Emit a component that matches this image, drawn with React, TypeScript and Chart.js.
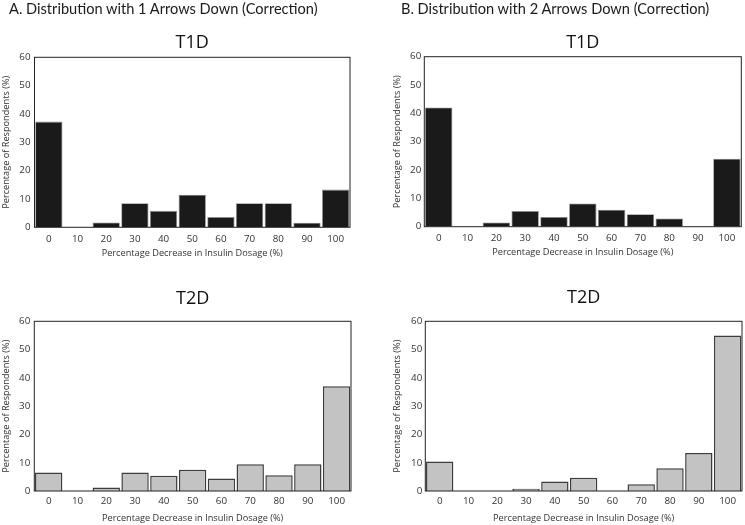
import React, { useEffect, useRef } from 'react';
import { Chart, registerables } from 'chart.js';

Chart.register(...registerables);

// ---- data ----
const categories = ['0', '10', '20', '30', '40', '50', '60', '70', '80', '90', '100'];
const t1dOneArrow = [37.3, 0, 1.7, 8.5, 5.8, 11.5, 3.6, 8.5, 8.5, 1.6, 13.3];
const t2dOneArrow = [6.5, 0, 1.2, 6.5, 5.4, 7.5, 4.4, 9.5, 5.6, 9.5, 37.0];
const t1dTwoArrows = [42.1, 0, 1.5, 5.5, 3.4, 8.2, 6.0, 4.4, 2.9, 0, 24.0];
const t2dTwoArrows = [10.4, 0, 0, 0.8, 3.4, 4.7, 0, 2.4, 8.0, 13.4, 55.0];
const yMin = 0;
const yMax = 60;
const yStep = 10;

const headerA = 'A. Distribution with 1 Arrows Down (Correction)';
const headerB = 'B. Distribution with 2 Arrows Down (Correction)';
const xTitle = 'Percentage Decrease in Insulin Dosage (%)';
const yTitle = 'Percentage of Respondents (%)';

const FONT = "'Open Sans', 'DejaVu Sans', sans-serif";

type PanelProps = {
  left: number;
  top: number;
  width: number;
  height: number;
  title: string;
  values: number[];
  fill: string;
  stroke: string;
  strokeWidth: number;
  area: { l: number; r: number; t: number; b: number };
  titleCenter: number;
  yTitleCenter: number;
  yTickPad: number;
  xTickGap: number;
  xTitleGap: number;
};

const framePlugin = {
  id: 'frame',
  afterDatasetsDraw(chart: any) {
    const { ctx, chartArea } = chart;
    ctx.save();
    ctx.strokeStyle = '#222';
    ctx.lineWidth = 1;
    ctx.strokeRect(chartArea.left, chartArea.top, chartArea.right - chartArea.left, chartArea.bottom - chartArea.top);
    ctx.restore();
  },
};

function Panel(p: PanelProps) {
  const ref = useRef<HTMLCanvasElement | null>(null);
  useEffect(() => {
    if (!ref.current) return;
    const tickSize = 9.8;
    const tickLH = tickSize * 1.2;
    const titleSize = 18;
    const titleLH = titleSize * 1.2;
    const axisTitleSize = 9.2;
    const axisTitleLH = axisTitleSize * 1.2;
    const xAxisH = p.height - p.area.b;
    const titlePadTop = p.titleCenter - titleLH / 2;
    const titlePadBottom = p.area.t - titlePadTop - titleLH;
    const chart = new Chart(ref.current, {
      type: 'bar',
      data: {
        labels: categories,
        datasets: [
          {
            data: p.values,
            backgroundColor: p.fill,
            borderColor: p.stroke,
            borderWidth: p.strokeWidth,
            barPercentage: 0.95,
            categoryPercentage: 1,
          },
        ],
      },
      options: {
        animation: false,
        responsive: false,
        maintainAspectRatio: false,
        layout: { padding: { left: 0, right: p.width - p.area.r, top: 0, bottom: 0 } },
        plugins: {
          legend: { display: false },
          tooltip: { enabled: false },
          title: {
            display: true,
            text: p.title,
            fullSize: false,
            color: '#111',
            font: { family: FONT, size: titleSize, weight: 'normal' },
            padding: { top: titlePadTop, bottom: titlePadBottom },
          },
        },
        scales: {
          x: {
            grid: { display: false, drawTicks: false },
            border: { display: false },
            ticks: {
              color: '#333',
              padding: p.xTickGap - tickLH / 2,
              font: { family: FONT, size: tickSize },
              maxRotation: 0,
              autoSkip: false,
            },
            title: {
              display: true,
              text: xTitle,
              color: '#333',
              font: { family: FONT, size: axisTitleSize },
              padding: { top: 0, bottom: xAxisH - p.xTitleGap - axisTitleLH / 2 },
            },
            afterFit(scale: any) {
              scale.height = xAxisH;
            },
          },
          y: {
            min: yMin,
            max: yMax,
            grid: { display: false, drawTicks: false },
            border: { display: false },
            ticks: {
              stepSize: yStep,
              color: '#333',
              padding: p.yTickPad,
              font: { family: FONT, size: tickSize },
            },
            title: {
              display: true,
              text: yTitle,
              color: '#333',
              font: { family: FONT, size: axisTitleSize },
              padding: { top: p.yTitleCenter - axisTitleLH / 2, bottom: 0 },
            },
            afterFit(scale: any) {
              scale.width = p.area.l;
            },
          },
        },
      },
      plugins: [framePlugin],
    } as any);
    return () => chart.destroy();
  }, []);
  return (
    <canvas
      ref={ref}
      width={p.width}
      height={p.height}
      style={{ position: 'absolute', left: p.left, top: p.top, width: p.width, height: p.height }}
    />
  );
}

const headerStyle: React.CSSProperties = {
  position: 'absolute',
  top: 0,
  fontFamily: "Lato, 'Open Sans', sans-serif",
  fontSize: 14.6,
  lineHeight: '18px',
  color: '#1a1a1a',
  whiteSpace: 'nowrap',
};

export default function App() {
  return (
    <div style={{ position: 'absolute', left: 0, top: 0, width: 745, height: 525, background: '#fff', overflow: 'hidden' }}>
      <Panel
        left={0}
        top={0}
        width={372}
        height={262}
        title="T1D"
        values={t1dOneArrow}
        fill="#1a1a1a"
        stroke="#8a8a8a"
        strokeWidth={0.8}
        area={{ l: 34.5, r: 350, t: 57.3, b: 227.3 }}
        titleCenter={43}
        yTitleCenter={6}
        yTickPad={4}
        xTickGap={12}
        xTitleGap={26}
      />
      <Panel
        left={372}
        top={0}
        width={373}
        height={262}
        title="T1D"
        values={t1dTwoArrows}
        fill="#1a1a1a"
        stroke="#8a8a8a"
        strokeWidth={0.8}
        area={{ l: 52.3, r: 369.3, t: 56.7, b: 226.7 }}
        titleCenter={43}
        yTitleCenter={25}
        yTickPad={3}
        xTickGap={12}
        xTitleGap={26}
      />
      <Panel
        left={0}
        top={262}
        width={372}
        height={263}
        title="T2D"
        values={t2dOneArrow}
        fill="#c3c3c3"
        stroke="#3c3c3c"
        strokeWidth={1.5}
        area={{ l: 34.3, r: 351, t: 59.3, b: 229 }}
        titleCenter={36.5}
        yTitleCenter={6}
        yTickPad={4}
        xTickGap={10.3}
        xTitleGap={27}
      />
      <Panel
        left={372}
        top={262}
        width={373}
        height={263}
        title="T2D"
        values={t2dTwoArrows}
        fill="#c3c3c3"
        stroke="#3c3c3c"
        strokeWidth={1.5}
        area={{ l: 53.3, r: 370, t: 59.3, b: 229 }}
        titleCenter={35.5}
        yTitleCenter={25}
        yTickPad={3}
        xTickGap={10.3}
        xTitleGap={27}
      />
      <div style={{ ...headerStyle, left: 9 }}>{headerA}</div>
      <div style={{ ...headerStyle, left: 401 }}>{headerB}</div>
    </div>
  );
}
